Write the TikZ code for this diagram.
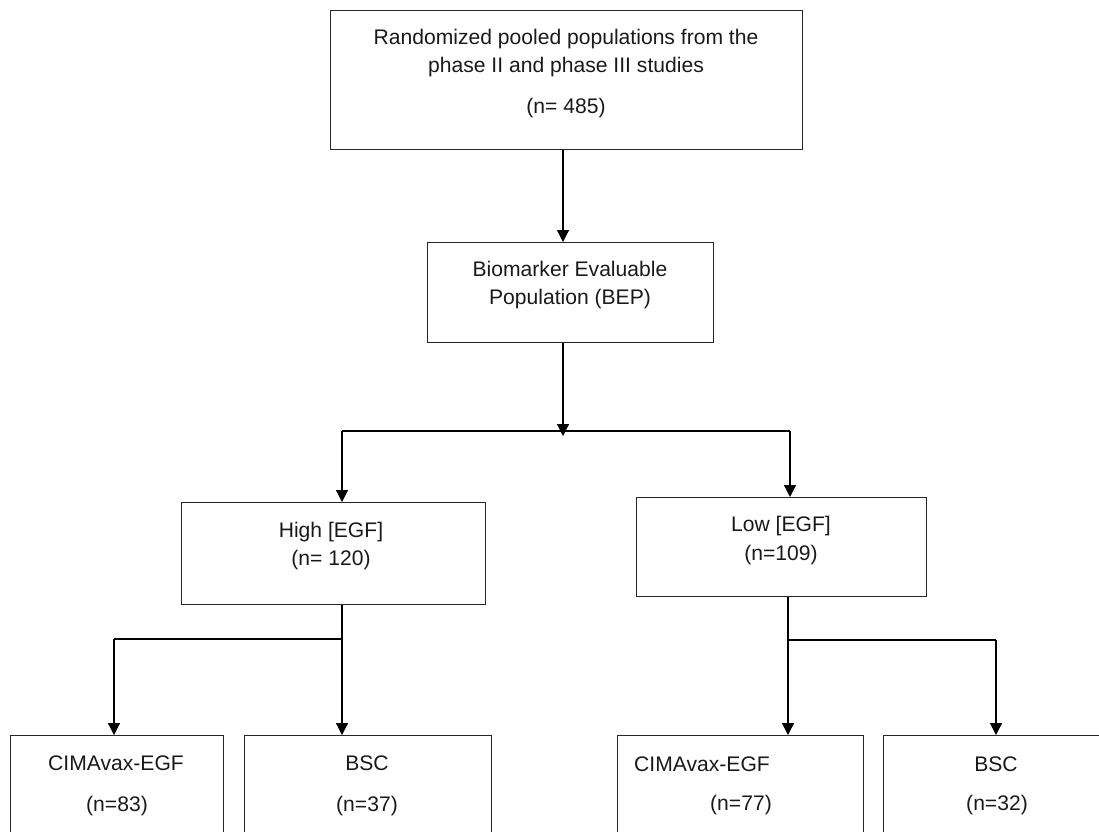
\documentclass[tikz,border=0pt]{standalone}
\usepackage{fontspec}
\setmainfont{Liberation Sans}
\usetikzlibrary{arrows.meta}
\begin{document}
\begin{tikzpicture}[x=1pt,y=-1pt,
  box/.style={draw=black!85, line width=1.2pt, inner sep=0pt, anchor=north west},
  arr/.style={line width=1.2pt, -{Triangle[length=12pt,width=12pt]}},
  ln/.style={line width=1.2pt},
  txt/.style={inner sep=0pt, anchor=base, font=\fontsize{21.1}{24}\selectfont, text=black!90}]
\useasboundingbox (0,0) rectangle (1099,831);
\begin{scope}
\clip (0,0) rectangle (1099,831);
% boxes
\node[box, minimum width=472pt, minimum height=139pt] (top) at (330,10) {};
\node[box, minimum width=286pt, minimum height=100pt] (bep) at (427,242) {};
\node[box, minimum width=304pt, minimum height=102pt] (high) at (181,502) {};
\node[box, minimum width=290pt, minimum height=99pt] (low) at (636,497) {};
\node[box, minimum width=213pt, minimum height=110pt] (c1) at (10,735) {};
\node[box, minimum width=247pt, minimum height=110pt] (b1) at (244,735) {};
\node[box, minimum width=246pt, minimum height=110pt] (c2) at (617,735) {};
\node[box, minimum width=230pt, minimum height=110pt] (b2) at (883,735) {};
\end{scope}
% texts
\node[txt] (t1) at (566,44) {Randomized pooled populations from the};
\node[txt] (t2) at (566,72) {phase II and phase III studies};
\node[txt] (t3) at (566,113) {(n= 485)};
\node[txt] (t4) at (570,276) {Biomarker Evaluable};
\node[txt] (t5) at (570,304) {Population (BEP)};
\node[txt] (t6) at (331,537) {High [EGF]};
\node[txt] (t7) at (331,565) {(n= 120)};
\node[txt] (t8) at (781,531) {Low [EGF]};
\node[txt] (t9) at (781,560) {(n=109)};
\node[txt] (t10) at (116,770) {CIMAvax-EGF};
\node[txt] (t11) at (117,811) {(n=83)};
\node[txt] (t12) at (367,770) {BSC};
\node[txt] (t13) at (367,811) {(n=37)};
\node[txt, anchor=base west] (t14) at (634,771) {CIMAvax-EGF};
\node[txt] (t15) at (741,810) {(n=77)};
\node[txt] (t16) at (996,771) {BSC};
\node[txt] (t17) at (997,810) {(n=32)};
% junction coordinates
\coordinate (j1) at (563,431);
\coordinate (jl) at (342,431);
\coordinate (jr) at (790,431);
\coordinate (j2) at (342,639);
\coordinate (j2l) at (114,639);
\coordinate (j3) at (788,640);
\coordinate (j3r) at (996,640);
% connectors
\draw[arr] (j1 |- top.south) -- (j1 |- bep.north);
\draw[arr] (j1 |- bep.south) -- ([yshift=-5pt]j1);
\draw[ln] (jl) -- (jr);
\draw[arr] (jl) -- (jl |- high.north);
\draw[arr] (jr) -- (jr |- low.north);
\draw[arr] (j2 |- high.south) -- (j2 |- b1.north);
\draw[ln] (j2) -- (j2l);
\draw[arr] (j2l) -- (j2l |- c1.north);
\draw[arr] (j3 |- low.south) -- (j3 |- c2.north);
\draw[ln] (j3) -- (j3r);
\draw[arr] (j3r) -- (j3r |- b2.north);
\end{tikzpicture}
\end{document}
